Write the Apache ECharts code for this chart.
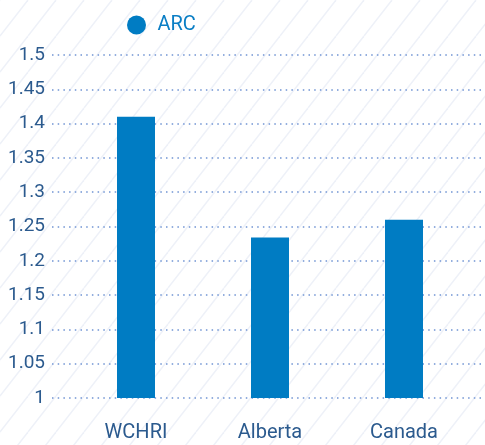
<!DOCTYPE html>
<html>
<head>
<meta charset="utf-8">
<script src="https://cdn.jsdelivr.net/npm/echarts@6/dist/echarts.min.js"></script>
<style>
html,body{margin:0;padding:0;background:#fff;}
#c{width:485px;height:445px;}
</style>
</head>
<body>
<div id="c"></div>
<script>
const categories = ['WCHRI', 'Alberta', 'Canada'];
const arcValues = [1.41, 1.234, 1.26];
const seriesName = 'ARC';
const yMin = 1, yMax = 1.5, yStep = 0.05;

// background diagonal hatch tile
const tile = document.createElement('canvas');
tile.width = 28; tile.height = 36;
const tc = tile.getContext('2d');
tc.fillStyle = '#ffffff';
tc.fillRect(0, 0, 28, 36);
tc.strokeStyle = '#eef1f8';
tc.lineWidth = 1.5;
for (let k = -1; k <= 1; k++) {
  tc.beginPath();
  tc.moveTo(k * 28, 36);
  tc.lineTo(k * 28 + 28, 0);
  tc.stroke();
}

const chart = echarts.init(document.getElementById('c'));
const font = 'Roboto';
chart.setOption({
  backgroundColor: { image: tile, repeat: 'repeat' },
  animation: false,
  legend: {
    data: [seriesName],
    left: 122, top: 10,
    icon: 'circle',
    itemWidth: 32, itemHeight: 19,
    textStyle: { color: '#0a7ec5', fontSize: 20, fontFamily: font }
  },
  grid: [
    { left: 52, right: 0, top: 55, bottom: 47 },
    { left: 69, right: 14, top: 55, bottom: 47 }
  ],
  xAxis: [
    { type: 'category', gridIndex: 0, data: categories, show: false },
    {
      type: 'category', gridIndex: 1, data: categories,
      axisLine: { show: false }, axisTick: { show: false },
      axisLabel: { color: '#2b5a8e', fontSize: 20, fontFamily: font, margin: 25 }
    }
  ],
  yAxis: [
    {
      type: 'value', gridIndex: 0, min: yMin, max: yMax, interval: yStep,
      axisLine: { show: false }, axisTick: { show: false },
      axisLabel: { color: '#2b5a8e', fontSize: 19, fontFamily: font, margin: 7 },
      splitLine: { lineStyle: { color: '#93aede', width: 2, type: [1.5, 4.2] } }
    },
    {
      type: 'value', gridIndex: 1, min: yMin, max: yMax, interval: yStep,
      show: false, splitLine: { show: false }
    }
  ],
  series: [{
    name: seriesName,
    type: 'bar',
    xAxisIndex: 1, yAxisIndex: 1,
    data: arcValues,
    barWidth: 38,
    itemStyle: { color: '#007cc3' }
  }]
});
</script>
</body>
</html>
